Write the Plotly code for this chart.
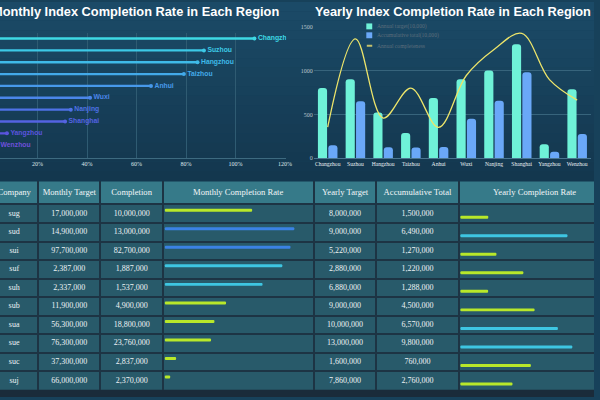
import plotly.graph_objects as go

# ---------------- data ----------------
regions = ["Changzhou", "Suzhou", "Hangzhou", "Taizhou", "Anhui",
           "Wuxi", "Nanjing", "Shanghai", "Yangzhou", "Wenzhou"]
monthly_rate = [107.6, 87.2, 84.6, 79.1, 65.8, 41.2, 33.4, 31.1, 7.6, 3.6]

annual_target = [800, 900, 522, 288, 688, 900, 1000, 1300, 160, 786]
accum_total = [150, 649, 127, 122, 129, 450, 657, 980, 76, 276]
annual_completeness = [18.8, 72.1, 24.3, 42.4, 18.7, 50.0, 65.7, 75.4, 47.5, 35.1]

companies = ["sug", "sud", "sui", "suf", "suh", "sub", "sua", "sue", "suc", "suj"]
monthly_target = [17000000, 14900000, 97700000, 2387000, 2337000,
                  11900000, 56300000, 76300000, 37300000, 66000000]
monthly_completion = [10000000, 13000000, 82700000, 1887000, 1537000,
                      4900000, 18800000, 23760000, 2837000, 2370000]
monthly_completion_rate = [58.8, 87.2, 84.6, 79.1, 65.8, 41.2, 33.4, 31.1, 7.6, 3.6]
yearly_target = [8000000, 9000000, 5220000, 2880000, 6880000,
                 9000000, 10000000, 13000000, 1600000, 7860000]
accum_yearly = [1500000, 6490000, 1270000, 1220000, 1288000,
                4500000, 6570000, 9800000, 760000, 2760000]
yearly_completion_rate = [18.8, 72.1, 24.3, 42.4, 18.7, 50.0, 65.7, 75.4, 47.5, 35.1]

headers = ["Company", "Monthly Target", "Completion", "Monthly Completion Rate",
           "Yearly Target", "Accumulative Total", "Yearly Completion Rate"]

# ---------------- styles ----------------
W, H = 600, 400
def py(px):
    return 1 - px / H
def pxx(px):
    return px / W

left_colors = ['#3ed8e4', '#3cc9e6', '#3fbae8', '#43aae9', '#4799ea',
               '#4b86ea', '#4f72e6', '#5463e2', '#5a54de', '#6e50dc']
serif = "Liberation Serif"
sans = "Liberation Sans"

def rate_color(r):
    if r >= 80:
        return '#3b82e4'
    if r >= 60:
        return '#3ec6e2'
    return '#b8e82a'

fig = go.Figure()

# ---------- left chart ----------
idx = list(range(len(regions)))
fig.add_trace(go.Bar(
    x=monthly_rate, y=idx, orientation='h', width=0.2,
    marker=dict(color=left_colors, line=dict(width=0)),
    xaxis='x', yaxis='y', showlegend=False, hoverinfo='skip'))
fig.add_trace(go.Scatter(
    x=monthly_rate, y=idx, mode='markers+text', text=regions,
    textposition='middle right',
    textfont=dict(family=sans, size=6.8, color=left_colors, weight='bold'),
    marker=dict(color=left_colors, size=4),
    xaxis='x', yaxis='y', showlegend=False, cliponaxis=True, hoverinfo='skip'))

# ---------- right chart ----------
fig.add_trace(go.Bar(
    x=regions, y=annual_target, name="Annual target(10,000)",
    marker=dict(color='#6ff2d8', line=dict(width=0)),
    xaxis='x2', yaxis='y2', showlegend=False))
fig.add_trace(go.Bar(
    x=regions, y=accum_total, name="Accumulative total(10,000)",
    marker=dict(color='#6aa8f8', line=dict(width=0)),
    xaxis='x2', yaxis='y2', showlegend=False))
fig.add_trace(go.Scatter(
    x=regions, y=annual_completeness, name="Annual completeness",
    mode='lines', line=dict(color='#ece46a', width=1.3, shape='spline', smoothing=1.0),
    xaxis='x2', yaxis='y3', showlegend=False))

# ---------- table ----------
col_edges = [38.3, 101.5, 164.5, 316.7, 380.0, 463.3]
col_centers = [14.3, 70.0, 133.0, 240.6, 348.6, 421.7, 540.0]
rows_y = [i + 0.5 for i in range(len(companies))]
fmt = lambda v: f"{v:,}"

fig.add_trace(go.Scatter(
    x=col_centers, y=[-0.62] * len(headers), text=headers, mode='text',
    textfont=dict(family=serif, size=8.6, color='#f2f6f8'),
    xaxis='x4', yaxis='y4', showlegend=False, hoverinfo='skip', cliponaxis=False))
text_cols = [(companies, col_centers[0]),
             ([fmt(v) for v in monthly_target], col_centers[1]),
             ([fmt(v) for v in monthly_completion], col_centers[2]),
             ([fmt(v) for v in yearly_target], col_centers[4]),
             ([fmt(v) for v in accum_yearly], col_centers[5])]
for vals, cx in text_cols:
    fig.add_trace(go.Scatter(
        x=[cx] * len(vals), y=rows_y, text=vals, mode='text',
        textfont=dict(family=serif, size=8, color='#eef3f5'),
        xaxis='x4', yaxis='y4', showlegend=False, hoverinfo='skip', cliponaxis=False))

BAR_SCALE = 1.5
fig.add_trace(go.Bar(
    x=[r * BAR_SCALE for r in monthly_completion_rate], y=rows_y, base=166.5,
    orientation='h', width=0.16,
    marker=dict(color=[rate_color(r) for r in monthly_completion_rate], line=dict(width=0)),
    xaxis='x4', yaxis='y4', showlegend=False, hoverinfo='skip'))
fig.add_trace(go.Bar(
    x=[r * BAR_SCALE for r in yearly_completion_rate], y=rows_y, base=465.0,
    orientation='h', width=0.16,
    marker=dict(color=[rate_color(r) for r in yearly_completion_rate], line=dict(width=0)),
    xaxis='x4', yaxis='y4', showlegend=False, hoverinfo='skip'))

# ---------------- background shapes ----------------
shapes = []
top_c = (27, 74, 103)
bot_c = (19, 54, 77)
nb = 20
for i in range(nb):
    t = i / (nb - 1)
    c = tuple(int(round(top_c[k] + (bot_c[k] - top_c[k]) * t)) for k in range(3))
    shapes.append(dict(type='rect', xref='paper', yref='paper', layer='below',
                       x0=0, x1=1, y0=py(i * 9.5 + 9.5), y1=py(i * 9.5),
                       fillcolor='rgb(%d,%d,%d)' % c, line=dict(width=0)))
shapes.append(dict(type='rect', xref='paper', yref='paper', layer='below',
                   x0=0, x1=1, y0=0, y1=py(186), fillcolor='#1a2b3a', line=dict(width=0)))
# table backgrounds
shapes.append(dict(type='rect', xref='x4', yref='y4', layer='below',
                   x0=0, x1=600, y0=0, y1=10, fillcolor='#285a6a', line=dict(width=0)))
shapes.append(dict(type='rect', xref='x4', yref='y4', layer='below',
                   x0=0, x1=600, y0=-1.24, y1=0, fillcolor='#367a89', line=dict(width=0)))
# legend symbols (right chart)
shapes.append(dict(type='rect', xref='paper', yref='paper', x0=pxx(370), x1=pxx(376),
                   y0=py(27.7), y1=py(21.7), fillcolor='#6ff2d8', line=dict(width=0)))
shapes.append(dict(type='rect', xref='paper', yref='paper', x0=pxx(370), x1=pxx(376),
                   y0=py(36.7), y1=py(30.7), fillcolor='#6aa8f8', line=dict(width=0)))
shapes.append(dict(type='line', xref='paper', yref='paper', x0=pxx(370.5), x1=pxx(376),
                   y0=py(44.3), y1=py(44.3), line=dict(color='#c4c06c', width=2)))

annotations = [
    dict(text="Monthly Index Completion Rate in Each Region", xref='paper', yref='paper',
         x=pxx(283.5), y=py(9.5), xanchor='right', yanchor='middle', showarrow=False,
         font=dict(family=sans, size=12.8, color='#ffffff', weight='bold')),
    dict(text="Yearly Index Completion Rate in Each Region", xref='paper', yref='paper',
         x=pxx(458), y=py(9.5), xanchor='center', yanchor='middle', showarrow=False,
         font=dict(family=sans, size=12.8, color='#ffffff', weight='bold')),
]
for name, yy in [("Annual target(10,000)", 24.7), ("Accumulative total(10,000)", 33.7),
                 ("Annual completeness", 44.3)]:
    annotations.append(dict(text=name, xref='paper', yref='paper', x=pxx(378.5), y=py(yy),
                            xanchor='left', yanchor='middle', showarrow=False,
                            font=dict(family=serif, size=5.6, color='#5d6e7c')))

# ---------------- layout ----------------
u = 18.77
fig.update_layout(
    width=W, height=H, margin=dict(l=0, r=0, t=0, b=0),
    paper_bgcolor='#17415a', plot_bgcolor='rgba(0,0,0,0)',
    barmode='group', bargap=0.25, bargroupgap=0.12, barcornerradius=3,
    showlegend=False, shapes=shapes, annotations=annotations,
    xaxis=dict(domain=[0, pxx(289)], range=[4.8, 120.4],
               tickvals=[20, 40, 60, 80, 100, 120],
               ticktext=["20%", "40%", "60%", "80%", "100%", "120%"],
               showgrid=True, gridcolor='#2f5b72', gridwidth=1, zeroline=False,
               showline=True, linecolor='#3d6a80', ticks='',
               tickfont=dict(family=serif, size=6, color='#dfe6ea')),
    yaxis=dict(domain=[py(158), py(31)], range=[(158 - 37) / 12, -0.5],
               showticklabels=False, showgrid=False, zeroline=False, ticks=''),
    xaxis2=dict(domain=[pxx(317), pxx(597)], anchor='y2', type='category',
                showgrid=False, showline=True, linecolor='#4a7690', ticks='',
                tickfont=dict(family=serif, size=5.6, color='#e8eef2')),
    yaxis2=dict(domain=[py(158.3), py(158.3 - 1510 * 133.3 / 1500)], anchor='x2',
                range=[0, 1510], tickvals=[0, 500, 1000, 1500],
                showgrid=True, gridcolor='#37647c', gridwidth=1, zeroline=False,
                ticks='', tickfont=dict(family=serif, size=6, color='#b9c6d0')),
    yaxis3=dict(overlaying='y2', range=[0, 80], visible=False, anchor='x2'),
    xaxis4=dict(domain=[0, 1], range=[0, 600], anchor='y4', tickvals=col_edges,
                showgrid=True, gridcolor='#1d3444', gridwidth=1.5,
                showticklabels=False, ticks='', zeroline=False),
    yaxis4=dict(domain=[py(205 + 10.03 * u), py(205 - 1.27 * u)], range=[10.03, -1.27],
                anchor='x4', tickvals=[-1.24] + list(range(11)),
                showgrid=True, gridcolor='#1d3444', gridwidth=1.5,
                showticklabels=False, ticks='', zeroline=False),
)

fig.write_html("out.html")
